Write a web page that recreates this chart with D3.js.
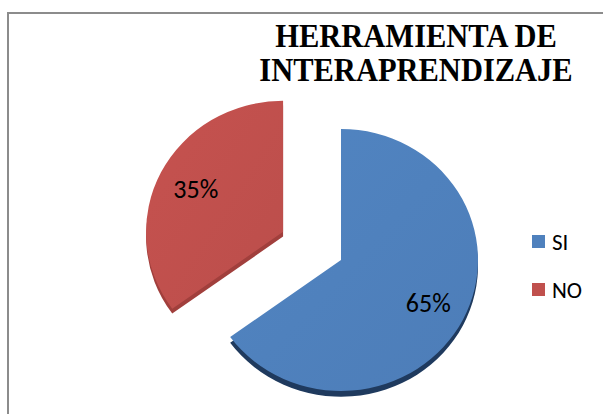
<!DOCTYPE html>
<html>
<head>
<meta charset="utf-8">
<script src="https://cdn.jsdelivr.net/npm/d3@7"></script>
<style>
  html, body { margin: 0; padding: 0; background: #fff; }
  svg { display: block; }
</style>
</head>
<body>
<div id="chart"></div>
<script>
// values
var categories = ["SI", "NO"];
var values = [65, 35];
var labels = ["65%", "35%"];
var titleLines = ["HERRAMIENTA DE", "INTERAPRENDIZAJE"];
var colors = ["#4f81bd", "#c0504d"];
var sideColors = ["#1f3a5e", "#a13f3c"];
var exploded = [0, 1];

var W = 603, H = 414;
var svg = d3.select("#chart").append("svg")
  .attr("width", W).attr("height", H);

// chart area border (only top and left edges fall inside the picture)
svg.append("rect")
  .attr("x", 8).attr("y", 13).attr("width", 700).attr("height", 500)
  .attr("fill", "none").attr("stroke", "#8c8c8c").attr("stroke-width", 2);

// title, Times-like bold, a bit stretched vertically
var ts = 1.1;
var title = svg.append("g").attr("transform", "translate(416,0) scale(1," + ts + ")");
title.selectAll("text").data(titleLines).join("text")
  .attr("x", 0)
  .attr("y", function (d, i) { return (47.5 + i * 34) / ts; })
  .attr("text-anchor", "middle")
  .attr("font-family", "'Liberation Serif', 'Times New Roman', serif")
  .attr("font-weight", "bold")
  .attr("font-size", "30.5px")
  .attr("fill", "#000")
  .text(function (d) { return d; });

// pie, slightly flattened, with a little depth
var R = 137, cx = 341, cy = 260, squash = 0.956, depth = 6;
var pie = d3.pie().sort(null).value(function (d) { return d; });
var arcs = pie(values);
var arc = d3.arc().innerRadius(0).outerRadius(R);
var explodeArc = d3.arc().innerRadius(65).outerRadius(65);
var labelArc = d3.arc().innerRadius(98).outerRadius(98);

var defs = svg.append("defs");
colors.forEach(function (c, i) {
  var g = defs.append("linearGradient").attr("id", "grad" + i)
    .attr("x1", "0%").attr("y1", "0%").attr("x2", "100%").attr("y2", "100%");
  g.append("stop").attr("offset", "0%").attr("stop-color", d3.color(c).brighter(0.08));
  g.append("stop").attr("offset", "100%").attr("stop-color", d3.color(c).darker(0.08));
});

var pieG = svg.append("g")
  .attr("transform", "translate(" + cx + "," + cy + ") scale(1," + squash + ")");

function offset(d, i) {
  if (!exploded[i]) return [0, 0];
  return explodeArc.centroid(d);
}

var slices = pieG.selectAll("g.slice").data(arcs).join("g")
  .attr("class", "slice")
  .attr("transform", function (d, i) {
    var o = offset(d, i);
    return "translate(" + o[0] + "," + o[1] + ")";
  });

// side / thickness
slices.append("path")
  .attr("d", arc)
  .attr("transform", function (d, i) { return "translate(0," + (i ? depth - 1 : depth) + ")"; })
  .attr("fill", function (d, i) { return sideColors[i]; });

// top face
slices.append("path")
  .attr("d", arc)
  .attr("fill", function (d, i) { return "url(#grad" + i + ")"; });

// percentage labels
slices.append("text")
  .attr("transform", function (d) {
    var c = labelArc.centroid(d);
    return "translate(" + c[0] + "," + c[1] + ") scale(1," + (1 / squash) + ")";
  })
  .attr("text-anchor", "middle")
  .attr("dy", "0.35em")
  .attr("font-family", "Carlito, Lato, 'Open Sans', sans-serif")
  .attr("font-size", "26px")
  .attr("fill", "#000")
  .text(function (d, i) { return labels[i]; });

// legend
var legend = svg.append("g").attr("transform", "translate(532,235)");
var items = legend.selectAll("g").data(categories).join("g")
  .attr("transform", function (d, i) { return "translate(0," + i * 48 + ")"; });
items.append("rect")
  .attr("width", 13).attr("height", 13)
  .attr("fill", function (d, i) { return colors[i]; });
items.append("text")
  .attr("x", 20).attr("y", 14.5)
  .attr("font-family", "Carlito, Lato, 'Open Sans', sans-serif")
  .attr("font-size", "23px")
  .attr("fill", "#000")
  .text(function (d) { return d; });
</script>
</body>
</html>
